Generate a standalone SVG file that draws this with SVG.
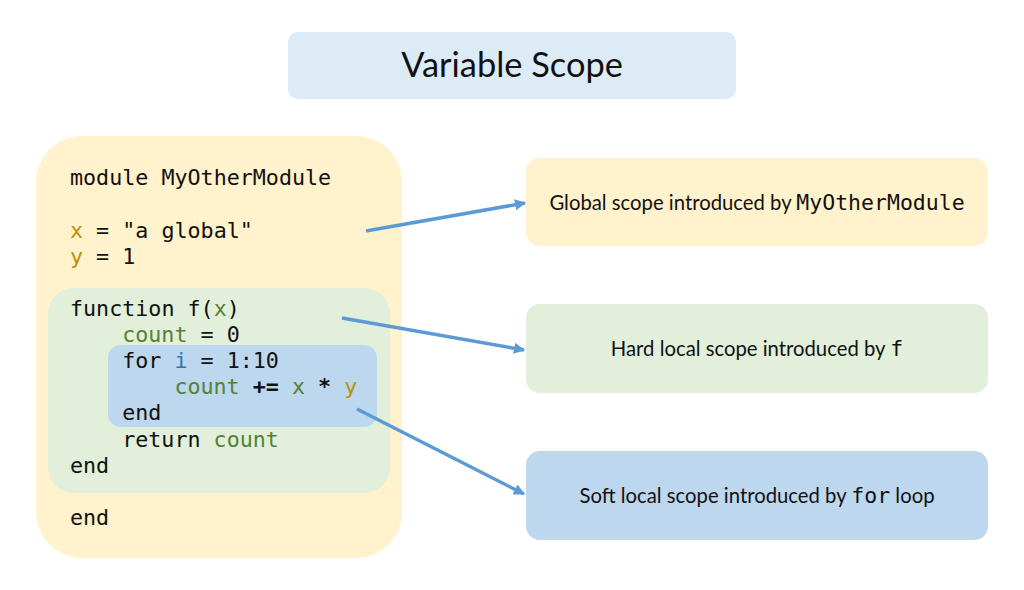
<svg xmlns="http://www.w3.org/2000/svg" width="1024" height="590" viewBox="0 0 1024 590">
<defs>
<style>
.code{font-family:"DejaVu Sans Mono",monospace;font-size:21.7px;fill:#111}
.g{fill:#bf9000}
.l{fill:#548235}
.b{fill:#2e75b6}
.op{font-weight:bold}
.lbl{font-family:Lato,"Open Sans",sans-serif;font-size:20.3px;fill:#111}
.mono{font-family:"DejaVu Sans Mono",monospace;font-size:21.5px}
.conn{stroke:#5b9bd5;stroke-width:3.5;fill:none;marker-end:url(#ah)}
</style>
<marker id="ah" viewBox="0 0 10 10" refX="9" refY="5" markerWidth="3.2" markerHeight="3.2" orient="auto" markerUnits="strokeWidth">
<path d="M0,0 L10,5 L0,10 z" fill="#5b9bd5"/>
</marker>
</defs>
<rect width="1024" height="590" fill="#ffffff"/>
<g id="title">
<rect x="288" y="32" width="448" height="67" rx="10" fill="#ddebf7"/>
<text x="512" y="77" text-anchor="middle" font-family="Lato,'Open Sans',sans-serif" font-size="34.4" fill="#111">Variable Scope</text>
</g>
<g id="module">
<rect x="36" y="136" width="366" height="422" rx="46" fill="#fff2cc"/>
<text class="code" x="70" y="185">module MyOtherModule</text>
<text class="code" x="70" y="238"><tspan class="g">x</tspan> = "a global"</text>
<text class="code" x="70" y="264"><tspan class="g">y</tspan> = 1</text>
<text class="code" x="70" y="525">end</text>
</g>
<g id="function">
<rect x="48" y="288" width="342" height="205" rx="26" fill="#e2efda"/>
<text class="code" x="70" y="316">function f(<tspan class="l">x</tspan>)</text>
<text class="code" x="122.2" y="342"><tspan class="l">count</tspan> = 0</text>
<text class="code" x="122.2" y="447">return <tspan class="l">count</tspan></text>
<text class="code" x="70" y="473">end</text>
</g>
<g id="forloop">
<rect x="108" y="345" width="269" height="82" rx="13" fill="#bdd7ee"/>
<text class="code" x="122.2" y="368">for <tspan class="b">i</tspan> = 1:10</text>
<text class="code" x="174.4" y="394"><tspan class="l">count</tspan> <tspan class="op">+=</tspan> <tspan class="l">x</tspan> <tspan class="op">*</tspan> <tspan class="g">y</tspan></text>
<text class="code" x="122.2" y="420">end</text>
</g>
<g id="global-label">
<rect x="526" y="158" width="462" height="88" rx="14" fill="#fff2cc"/>
<text class="lbl" x="757" y="210" text-anchor="middle">Global scope introduced by <tspan class="mono">MyOtherModule</tspan></text>
</g>
<g id="hard-label">
<rect x="526" y="304" width="462" height="89" rx="14" fill="#e2efda"/>
<text class="lbl" x="757" y="356" text-anchor="middle">Hard local scope introduced by <tspan class="mono">f</tspan></text>
</g>
<g id="soft-label">
<rect x="526" y="451" width="462" height="89" rx="14" fill="#bdd7ee"/>
<text class="lbl" x="757" y="503" text-anchor="middle">Soft local scope introduced by <tspan class="mono">for</tspan> loop</text>
</g>
<g id="connectors">
<line class="conn" x1="366" y1="231" x2="525" y2="203"/>
<line class="conn" x1="342" y1="318" x2="524" y2="350"/>
<line class="conn" x1="357" y1="409" x2="524" y2="494"/>
</g>
</svg>
